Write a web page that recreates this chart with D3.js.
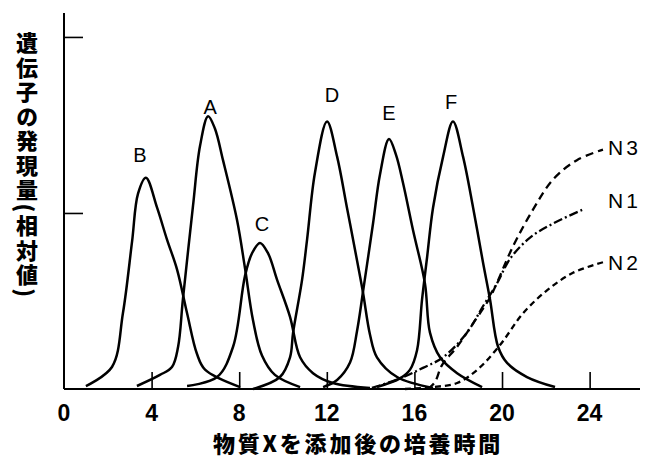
<!DOCTYPE html>
<html>
<head>
<meta charset="utf-8">
<script src="https://cdn.jsdelivr.net/npm/d3@7"></script>
<style>
  body { margin: 0; background: #fff; }
  svg { display: block; }
</style>
</head>
<body>
<svg id="chart" width="648" height="460"></svg>
<script>
// time after adding X (h), relative expression
var geneB = [[1.00,0.017],[2.19,0.125],[2.69,0.43],[3.11,0.84],[3.38,1.11],[3.74,1.20],[4.25,1.03],[4.70,0.85],[5.16,0.68],[5.62,0.43],[6.07,0.20],[6.44,0.11],[8.04,0.011]];
var geneA = [[3.33,0.017],[4.38,0.08],[4.93,0.125],[5.21,0.24],[5.43,0.51],[5.89,1.04],[6.21,1.38],[6.58,1.55],[6.89,1.48],[7.26,1.30],[7.90,0.96],[8.26,0.69],[8.63,0.39],[9.04,0.19],[9.63,0.08],[10.78,0.011]];
var geneC = [[5.62,0.017],[6.99,0.068],[7.72,0.24],[8.26,0.64],[8.58,0.77],[8.95,0.83],[9.32,0.77],[9.73,0.62],[10.32,0.41],[10.78,0.18],[11.37,0.09],[12.28,0.034],[13.97,0.006]];
var geneD = [[8.63,0.0],[9.86,0.068],[10.32,0.18],[10.46,0.32],[10.87,0.62],[11.10,0.85],[11.46,1.23],[12.01,1.52],[12.47,1.32],[12.92,1.03],[13.38,0.73],[13.65,0.55],[13.97,0.31],[14.29,0.18],[15.21,0.068],[16.85,0.006]];
var geneE = [[11.83,0.011],[12.47,0.051],[13.06,0.15],[13.38,0.33],[13.65,0.55],[14.11,0.94],[14.43,1.22],[14.84,1.42],[15.16,1.33],[15.48,1.17],[15.94,0.90],[16.48,0.60],[16.71,0.32],[17.17,0.18],[17.95,0.09],[19.09,0.011]];
var geneF = [[14.29,0.011],[15.34,0.06],[15.80,0.11],[16.12,0.22],[16.35,0.51],[16.58,0.75],[16.85,1.03],[17.31,1.32],[17.76,1.52],[18.22,1.32],[18.68,1.03],[19.13,0.72],[19.45,0.51],[19.82,0.24],[20.23,0.148],[21.14,0.068],[22.42,0.011]];
var geneN1 = [[14.06,0.006],[15.34,0.06],[16.39,0.12],[17.31,0.18],[18.40,0.32],[19.13,0.47],[19.77,0.60],[20.37,0.74],[21.28,0.86],[22.33,0.94],[23.70,1.02]];
var geneN2 = [[15.57,0.0],[16.85,0.011],[17.95,0.034],[18.86,0.108],[19.91,0.25],[20.96,0.43],[22.05,0.56],[23.24,0.66],[24.61,0.72]];
var geneN3 = [[16.62,0.0],[16.94,0.04],[17.26,0.136],[17.95,0.24],[18.77,0.39],[19.45,0.52],[20.50,0.81],[21.42,1.02],[22.33,1.19],[23.42,1.30],[24.61,1.36]];

// label anchors (time, value)
var peakLabels = [["A",6.67,1.60],["B",3.47,1.33],["C",9.04,0.94],["D",12.24,1.67],["E",14.84,1.57],["F",17.67,1.63]];
var endLabels = [["N3",24.84,1.37],["N1",24.84,1.07],["N2",24.84,0.72]];

var xTicks = [0, 4, 8, 12, 16, 20, 24];
var yTicks = [1, 2];
var xTitle = "物質Xを添加後の培養時間";
var yTitle = "遺伝子の発現量(相対値)";

var svg = d3.select("#chart");
svg.append("rect").attr("width", 648).attr("height", 460).attr("fill", "#fff");

var x = d3.scaleLinear().domain([0, 26.3]).range([64, 640]);
var y = d3.scaleLinear().domain([0, 2.136]).range([389, 13]);

// axes: ticks drawn inwards, no labels on y
var gx = svg.append("g")
    .attr("transform", "translate(0," + y(0) + ")")
    .call(d3.axisTop(x).tickValues(xTicks.filter(function(d) { return d > 0; })).tickSize(17).tickFormat(""));
var gy = svg.append("g")
    .attr("transform", "translate(" + x(0) + ",0)")
    .call(d3.axisRight(y).tickValues(yTicks).tickSize(19).tickFormat(""));
[gx, gy].forEach(function(g) {
    g.select(".domain").remove();
    g.selectAll(".tick line").attr("stroke", "#000").attr("stroke-width", 1.6);
});
svg.append("line").attr("x1", x(0)).attr("x2", x(26.3)).attr("y1", y(0)).attr("y2", y(0))
    .attr("stroke", "#000").attr("stroke-width", 2);
svg.append("line").attr("x1", x(0)).attr("x2", x(0)).attr("y1", y(0)).attr("y2", y(2.136))
    .attr("stroke", "#000").attr("stroke-width", 2);

// tick numbers
svg.append("g").selectAll("text")
    .data(xTicks)
    .enter()
    .append("text")
    .attr("x", function(d) { return x(d); })
    .attr("y", 421)
    .attr("text-anchor", "middle")
    .style("font-family", "'Liberation Sans Narrow', 'Liberation Sans', Arial, sans-serif")
    .style("font-weight", "bold")
    .style("font-size", "23px")
    .text(function(d) { return d; });

// curves
var line = d3.line()
    .x(function(d) { return x(d[0]); })
    .y(function(d) { return y(d[1]); })
    .curve(d3.curveCatmullRom.alpha(0.5));

var solid = [geneA, geneB, geneC, geneD, geneE, geneF];
svg.append("g").selectAll("path")
    .data(solid)
    .enter()
    .append("path")
    .attr("d", line)
    .attr("fill", "none")
    .attr("stroke", "#000")
    .attr("stroke-width", 2.5);

var broken = [
    { pts: geneN3, dash: "8,5" },
    { pts: geneN1, dash: "9,3,2,3" },
    { pts: geneN2, dash: "6,4" }
];
svg.append("g").selectAll("path")
    .data(broken)
    .enter()
    .append("path")
    .attr("d", function(d) { return line(d.pts); })
    .attr("fill", "none")
    .attr("stroke", "#000")
    .attr("stroke-width", 2.3)
    .attr("stroke-dasharray", function(d) { return d.dash; });

// curve names
svg.append("g").selectAll("text")
    .data(peakLabels)
    .enter()
    .append("text")
    .attr("x", function(d) { return x(d[1]); })
    .attr("y", function(d) { return y(d[2]); })
    .attr("dy", "0.35em")
    .attr("text-anchor", "middle")
    .style("font-family", "'Liberation Sans', Arial, sans-serif")
    .style("font-size", "20px")
    .text(function(d) { return d[0]; });

svg.append("g").selectAll("text")
    .data(endLabels)
    .enter()
    .append("text")
    .attr("x", function(d) { return x(d[1]); })
    .attr("y", function(d) { return y(d[2]); })
    .attr("dy", "0.35em")
    .style("font-family", "'Liberation Sans', Arial, sans-serif")
    .style("font-size", "21px")
    .style("letter-spacing", "3px")
    .text(function(d) { return d[0]; });

// titles
svg.append("text")
    .attr("x", 358)
    .attr("y", 452)
    .attr("text-anchor", "middle")
    .style("font-family", "'Noto Sans CJK JP', sans-serif")
    .style("font-weight", "900")
    .style("font-size", "22px")
    .style("letter-spacing", "2.8px")
    .text(xTitle);

svg.append("text")
    .attr("x", 27)
    .attr("y", 32)
    .style("writing-mode", "vertical-rl")
    .style("font-family", "'Noto Sans CJK JP', sans-serif")
    .style("font-weight", "900")
    .style("font-size", "22px")
    .style("letter-spacing", "2.5px")
    .text(yTitle);
</script>
</body>
</html>
